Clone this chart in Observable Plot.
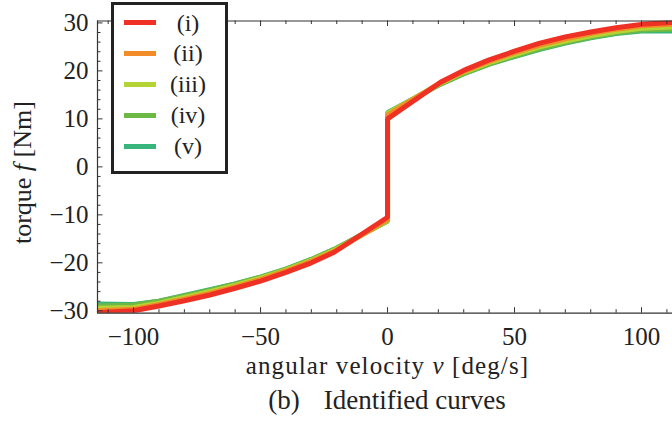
<!DOCTYPE html>
<html>
<head>
<meta charset="utf-8">
<script src="https://cdn.jsdelivr.net/npm/d3@7"></script>
<script src="https://cdn.jsdelivr.net/npm/@observablehq/plot@0.6"></script>
<style>
  body { margin: 0; background: #fff; }
  #wrap { position: relative; width: 672px; height: 427px; overflow: hidden; font-family: "Liberation Serif", serif; color: #222; background: #fff; }
  #wrap svg text { font-family: "Liberation Serif", serif; }
  #legend { position: absolute; left: 111px; top: 2px; width: 111px; height: 166px; border: 3px solid #222; background: #fff; }
  .row { position: absolute; left: 0; width: 111px; height: 30px; }
  .sw { position: absolute; left: 10px; top: 12.5px; width: 32px; height: 5px; }
  .lab { position: absolute; left: 44px; width: 60px; top: 0; line-height: 30px; text-align: center; font-size: 24px; }
  #caption { position: absolute; left: 0; width: 672px; top: 385px; line-height: 30px; font-size: 27px; text-align: center; padding-left: 102px; box-sizing: border-box; white-space: nowrap; }
</style>
</head>
<body>
<div id="wrap"></div>
<script>
// ---- data ----
const seriesNames = ["(i)", "(ii)", "(iii)", "(iv)", "(v)"];
const seriesColors = ["#ee3124", "#f28c28", "#b5d334", "#6cb946", "#37b57a"];
const velocity = [-115, -100, -90, -80, -70, -60, -50, -40, -30, -21, 0, 0, 21, 30, 40, 50, 60, 70, 80, 90, 100, 115];
const torque_i   = [-30.4, -30.0, -29.0, -27.9, -26.7, -25.3, -23.8, -22.0, -20.0, -17.8, -10.5, 10.0, 17.7, 20.1, 22.3, 24.1, 25.8, 27.1, 28.1, 29.0, 29.7, 30.2];
const torque_ii  = [-30.0, -29.7, -28.7, -27.6, -26.4, -25.0, -23.5, -21.7, -19.7, -17.6, -11.0, 10.8, 17.6, 19.9, 22.0, 23.8, 25.4, 26.7, 27.8, 28.7, 29.4, 29.8];
const torque_iii = [-29.5, -29.3, -28.4, -27.2, -26.0, -24.7, -23.2, -21.5, -19.5, -17.4, -11.2, 11.1, 17.5, 19.7, 21.7, 23.4, 25.0, 26.2, 27.3, 28.2, 28.9, 29.2];
const torque_iv  = [-29.0, -28.8, -28.0, -26.9, -25.7, -24.4, -23.0, -21.3, -19.3, -17.2, -11.3, 11.2, 17.3, 19.4, 21.4, 23.1, 24.6, 25.9, 27.0, 27.9, 28.5, 28.7];
const torque_v   = [-28.6, -28.7, -28.0, -26.8, -25.6, -24.4, -23.0, -21.3, -19.3, -17.2, -11.3, 11.3, 17.3, 19.4, 21.4, 23.0, 24.5, 25.8, 26.9, 27.8, 28.3, 28.3];
const xMajorTicks = [-100, -50, 0, 50, 100];
const xMinorTicks = [-110, -90, -80, -70, -60, -40, -30, -20, -10, 10, 20, 30, 40, 60, 70, 80, 90, 110];
const yMajorTicks = [-30, -20, -10, 0, 10, 20, 30];
const yMinorTicks = [-28, -26, -24, -22, -18, -16, -14, -12, -8, -6, -4, -2, 2, 4, 6, 8, 12, 14, 16, 18, 22, 24, 26, 28];
const xLabel = "angular velocity v [deg/s]";
const yLabel = "torque f [Nm]";
const captionText = "Identified curves";

// ---- build ----
const torques = [torque_i, torque_ii, torque_iii, torque_iv, torque_v];
const rows = [];
for (let s = seriesNames.length - 1; s >= 0; s--) {
  velocity.forEach((v, i) => rows.push({series: seriesNames[s], v, f: torques[s][i]}));
}

const W = 672, H = 385;
const xDomain = [-114.2, 112.2], yDomain = [-30.5, 30.4];
const mL = 97, mT = 20.5, mB = H - 312.7, mR = 0;
const pW = W - mL - mR, pH = H - mT - mB;
const axisColor = "#333";
const serif = "Liberation Serif";
const fmt = d => d < 0 ? "\u2212" + Math.abs(d) : String(d);

const chart = Plot.plot({
  width: W, height: H,
  marginLeft: mL, marginRight: mR, marginTop: mT, marginBottom: mB,
  x: {domain: xDomain},
  y: {domain: yDomain},
  color: {domain: seriesNames, range: seriesColors},
  style: {fontFamily: serif, fontSize: "25px", color: "#222", background: "white", overflow: "visible"},
  marks: [
    Plot.line(rows, {x: "v", y: "f", z: "series", stroke: "series", strokeWidth: 5, clip: true, strokeLinejoin: "miter", strokeLinecap: "butt"}),
    // frame (left, top, bottom)
    Plot.ruleX([xDomain[0]], {stroke: axisColor, strokeWidth: 1.2}),
    Plot.ruleY([yDomain[0], yDomain[1]], {stroke: axisColor, strokeWidth: 1.2}),
    // inward ticks
    Plot.tickX(xMajorTicks, {x: d => d, insetTop: pH - 5.5, stroke: axisColor}),
    Plot.tickX(xMajorTicks, {x: d => d, insetBottom: pH - 5.5, stroke: axisColor}),
    Plot.tickX(xMinorTicks, {x: d => d, insetTop: pH - 3.5, stroke: axisColor}),
    Plot.tickX(xMinorTicks, {x: d => d, insetBottom: pH - 3.5, stroke: axisColor}),
    Plot.tickY(yMajorTicks, {y: d => d, insetRight: pW - 5.5, stroke: axisColor}),
    Plot.tickY(yMinorTicks, {y: d => d, insetRight: pW - 3.5, stroke: axisColor}),
    // tick labels
    Plot.axisX({ticks: xMajorTicks, tickSize: 0, tickPadding: 14, tickFormat: fmt, label: null, fontSize: 25, fontFamily: serif, fill: "#222"}),
    Plot.axisY({ticks: yMajorTicks, tickSize: 0, tickPadding: 9, tickFormat: fmt, label: null, fontSize: 25, fontFamily: serif, fill: "#222"}),
    // axis titles
    Plot.text([xLabel], {text: d => d, frameAnchor: "bottom", lineAnchor: "bottom", dy: 60.5, dx: 2.5, fontSize: 25, fontFamily: serif, fill: "#222"}),
    Plot.text([yLabel], {text: d => d, frameAnchor: "left", textAnchor: "middle", lineAnchor: "bottom", rotate: -90, dx: -67, dy: 5.5, fontSize: 26, fontFamily: serif, fill: "#222"})
  ]
});

// italic variable symbols inside the axis titles
d3.select(chart).selectAll("text").each(function() {
  const t = d3.select(this);
  const s = t.text();
  let parts = null;
  if (s === xLabel) { parts = ["angular velocity ", "v", " [deg/s]"]; t.attr("letter-spacing", "1.1px"); }
  if (s === yLabel) parts = ["torque ", "f", " [Nm]"];
  if (parts) {
    t.text(null);
    t.append("tspan").text(parts[0]);
    t.append("tspan").attr("font-style", "italic").text(parts[1]);
    t.append("tspan").text(parts[2]);
  }
});

const wrap = document.getElementById("wrap");
chart.style.position = "absolute";
chart.style.left = "0px";
chart.style.top = "0px";
wrap.appendChild(chart);

// legend (HTML overlay)
const legend = d3.select(wrap).append("div").attr("id", "legend");
const rowCenters = [17.7, 48.3, 79.3, 110, 141];
seriesNames.forEach((n, i) => {
  const r = legend.append("div").attr("class", "row").style("top", (rowCenters[i] - 15) + "px");
  r.append("div").attr("class", "sw").style("background", seriesColors[i]);
  r.append("div").attr("class", "lab").text(n);
});

// caption
const cap = d3.select(wrap).append("div").attr("id", "caption");
cap.append("span").text("(b)");
cap.append("span").style("display", "inline-block").style("width", "24px");
cap.append("span").text(captionText);
</script>
</body>
</html>
